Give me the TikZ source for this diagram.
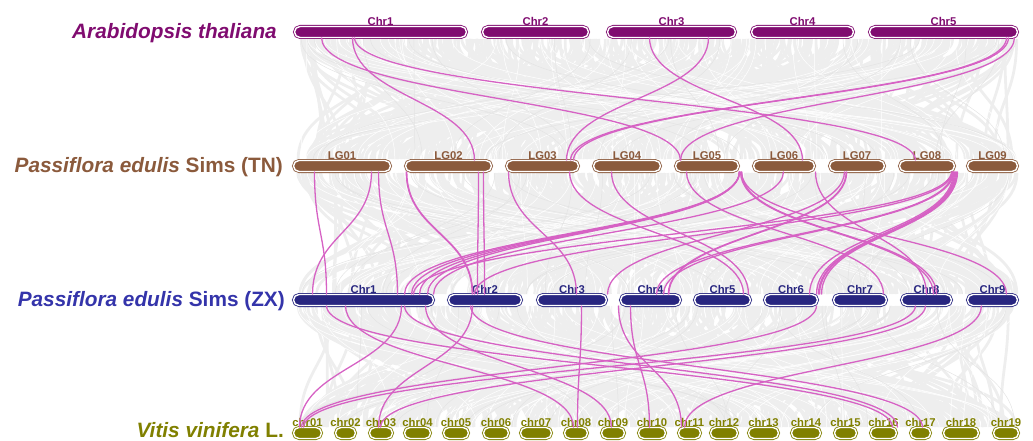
\documentclass[tikz,border=0pt]{standalone}
\usepackage{fontspec}
\setmainfont{Liberation Sans}
\usetikzlibrary{calc}

\definecolor{atcol}{RGB}{128,12,112}
\definecolor{tncol}{RGB}{139,90,60}
\definecolor{zxcol}{RGB}{40,38,128}
\definecolor{zxtext}{RGB}{52,52,170}
\definecolor{vvcol}{RGB}{128,128,0}
\definecolor{synpink}{RGB}{214,98,196}
\definecolor{bggray}{RGB}{238,238,238}
\definecolor{bgdark}{RGB}{228,228,228}

% pink syntenic link: top chromosome, offset, bottom chromosome, offset
\newcommand{\syn}[5][]{%
  \draw[synline,#1] ($(#2.south west)+(#3,0)$) .. controls +(0,60) and +(0,-60) .. ($(#4.north west)+(#5,0)$);}

\begin{document}
\begin{tikzpicture}[x=1pt, y=-1pt,
    chrbar/.style={draw=#1, fill=#1, double=white, line width=0.8pt, double distance=1.4pt,
      rounded corners=5.5pt, minimum height=11pt, inner sep=0pt, outer sep=0pt},
    chrlbl/.style={text=#1, font=\bfseries\fontsize{11.3}{12}\selectfont, inner sep=0.5pt},
    splbl/.style={text=#1, font=\bfseries\fontsize{20.8}{24}\selectfont, anchor=base east, inner sep=0pt},
    bgline/.style={draw=bggray, line width=2.8pt},
    bgthin/.style={draw=#1, line width=0.5pt},
    synline/.style={draw=synpink, line width=1.3pt}]
  \useasboundingbox (0,0) rectangle (1033,441);

  % -------- gray background links --------
  \pgfmathsetseed{42}
  \foreach \ya/\yb in {39/159, 173/294, 306/427}{
    \foreach \k in {1,...,420}{
      \pgfmathsetmacro{\xa}{297+rnd*720}
      \pgfmathsetmacro{\xb}{297+rnd*720}
      \draw[bgline] (\xa,\ya) .. controls (\xa,{(\ya+\yb)/2}) and (\xb,{(\ya+\yb)/2}) .. (\xb,\yb);
    }
    % lighter and darker streaks
    \foreach \k in {1,...,70}{
      \pgfmathsetmacro{\xa}{297+rnd*720}
      \pgfmathsetmacro{\xb}{297+rnd*720}
      \draw[bgthin=white] (\xa,\ya) .. controls (\xa,{(\ya+\yb)/2}) and (\xb,{(\ya+\yb)/2}) .. (\xb,\yb);
    }
    \foreach \k in {1,...,25}{
      \pgfmathsetmacro{\xa}{297+rnd*720}
      \pgfmathsetmacro{\xb}{297+rnd*720}
      \draw[bgthin=bgdark] (\xa,\ya) .. controls (\xa,{(\ya+\yb)/2}) and (\xb,{(\ya+\yb)/2}) .. (\xb,\yb);
    }
  }

  % -------- species names --------
  \node[splbl=atcol] (atname) at (277,39) {\itshape Arabidopsis thaliana};
  \node[splbl=tncol] (tnname) at (283,172) {\textit{Passiflora edulis} Sims (TN)};
  \node[splbl=zxtext] (zxname) at (285,306) {\textit{Passiflora edulis} Sims (ZX)};
  \node[splbl=vvcol] (vvname) at (284,437) {\textit{Vitis vinifera} L.};

  % -------- chromosomes --------
  \foreach \n/\a/\b in {1/293/468, 2/481/590, 3/606/737, 4/750/855, 5/868/1019}
    \node[chrbar=atcol, minimum width={\b-\a-3}, label={[chrlbl=atcol]above:Chr\n}] (at\n) at ({(\a+\b)/2},32) {};
  \foreach \n/\a/\b in {1/292/392, 2/404/493, 3/505/580, 4/592/662, 5/674/740,
                        6/752/816, 7/828/886, 8/898/956, 9/966/1019}
    \node[chrbar=tncol, minimum width={\b-\a-3}, label={[chrlbl=tncol]above:LG0\n}] (tn\n) at ({(\a+\b)/2},166) {};
  \foreach \n/\a/\b in {1/292/435, 2/447/523, 3/536/608, 4/619/682, 5/693/752,
                        6/763/819, 7/832/888, 8/900/953, 9/966/1019}
    \node[chrbar=zxcol, minimum width={\b-\a-3}, label={[chrlbl=zxcol]above:Chr\n}] (zx\n) at ({(\a+\b)/2},300) {};
  \foreach \n/\a/\b in {01/292/323, 02/334/357, 03/368/394, 04/403/432, 05/442/470,
                        06/482/510, 07/519/553, 08/563/589, 09/600/626, 10/637/667,
                        11/677/702, 12/709/739, 13/747/780, 14/790/822, 15/833/858,
                        16/869/898, 17/909/932, 18/942/980, 19/992/1020}
    \node[chrbar=vvcol, minimum width={\b-\a-3}, label={[chrlbl=vvcol]above:chr\n}] (vv\n) at ({(\a+\b)/2},433) {};

  % -------- A. thaliana -> TN --------
  \syn{at1}{27}{tn5}{5}
  \syn{at1}{58}{tn2}{69}
  \syn{at1}{60}{tn8}{16}
  \syn{at3}{42}{tn6}{49}
  \syn{at3}{101}{tn3}{60}
  \syn{at5}{137}{tn3}{64}
  \syn{at5}{139}{tn3}{67}
  \syn{at5}{145}{tn5}{5}

  % -------- TN -> ZX --------
  \syn{tn1}{21}{zx1}{33}
  \syn{tn1}{78}{zx1}{19}
  \syn{tn1}{85}{zx1}{104}
  \syn[line width=1.8pt]{tn2}{1}{zx2}{24}
  \syn{tn2}{73}{zx2}{29}
  \syn{tn2}{78}{zx2}{36}
  \syn{tn3}{2}{zx3}{39}
  \syn{tn3}{63}{zx5}{49}
  \syn{tn4}{18}{zx5}{54}
  \syn{tn5}{11}{zx7}{50}
  \foreach \o in {111,118,126,134}{
    \syn{tn5}{64}{zx1}{\o}
  }
  \syn{tn5}{65}{zx8}{32}
  \syn{tn5}{66}{zx8}{35}
  \syn{tn5}{66}{zx9}{39}
  \syn{tn6}{30}{zx1}{140}
  \syn{tn6}{62}{zx8}{25}
  \syn[line width=1.8pt]{tn7}{17}{zx4}{48}
  \syn{tn7}{15}{zx3}{70}
  \foreach \o/\p in {55/52,56/54,57/55,58/57}{
    \syn{tn8}{\o}{zx6}{\p}
  }
  \syn{tn8}{54}{zx6}{45}
  \syn{tn8}{53}{zx4}{36}
  \syn{tn8}{54}{zx4}{43}
  \syn{tn8}{52}{zx1}{120}
  \syn{tn8}{53}{zx2}{26}

  % -------- ZX -> V. vinifera --------
  \syn{zx1}{33}{vv16}{22}
  \syn{zx1}{52}{vv08}{9}
  \syn{zx1}{108}{vv01}{6}
  \syn{zx1}{111}{vv16}{27}
  \syn{zx1}{132}{vv09}{10}
  \syn{zx2}{22}{vv17}{12}
  \syn{zx2}{24}{vv03}{9}
  \syn{zx3}{44}{vv08}{13}
  \syn{zx4}{-2}{vv11}{3}
  \syn{zx4}{10}{vv10}{11}
  \syn{zx6}{52}{vv01}{8}
  \syn{zx8}{14}{vv01}{10}
  \syn{zx8}{24}{vv03}{11}
  \syn{zx9}{14}{vv11}{6}
\end{tikzpicture}
\end{document}
